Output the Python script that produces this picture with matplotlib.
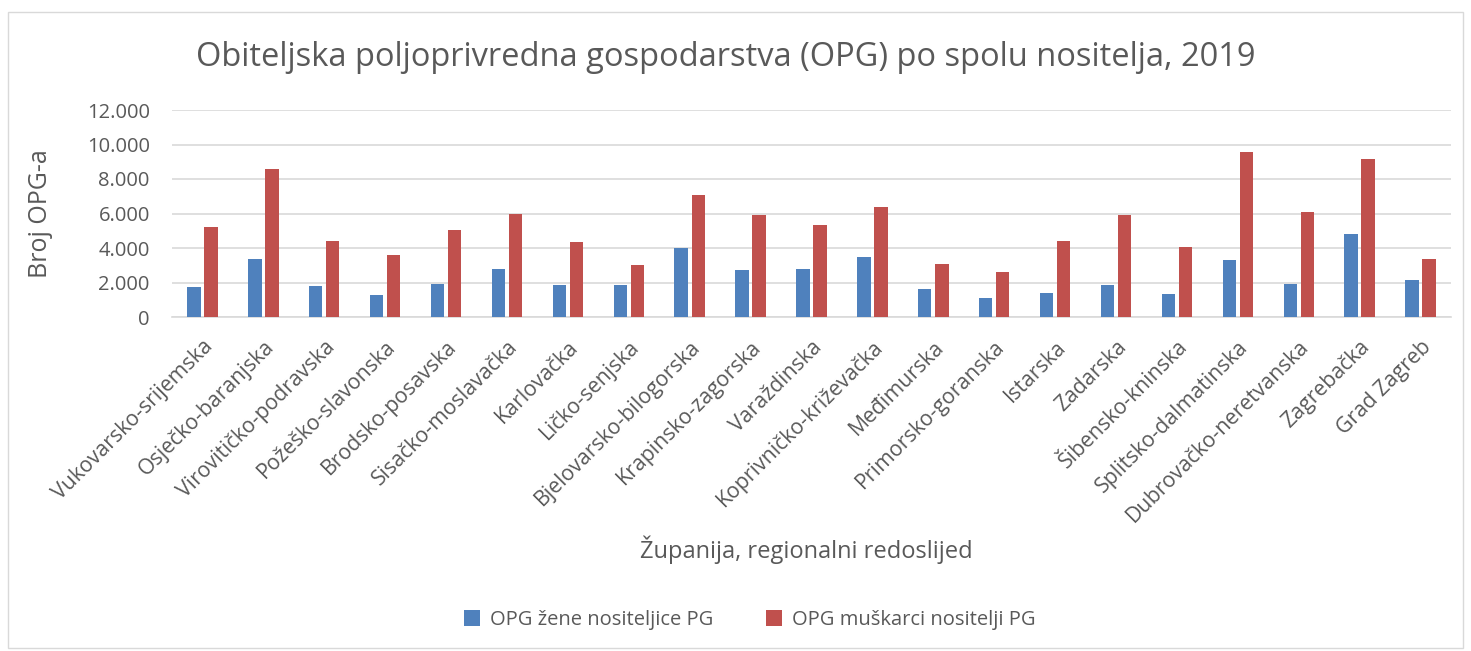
import matplotlib.pyplot as plt
from matplotlib.patches import Rectangle
from matplotlib.ticker import FuncFormatter
import numpy as np

counties = [
    "Vukovarsko-srijemska", "Osječko-baranjska", "Virovitičko-podravska",
    "Požeško-slavonska", "Brodsko-posavska", "Sisačko-moslavačka",
    "Karlovačka", "Ličko-senjska", "Bjelovarsko-bilogorska",
    "Krapinsko-zagorska", "Varaždinska", "Koprivničko-križevačka",
    "Međimurska", "Primorsko-goranska", "Istarska", "Zadarska",
    "Šibensko-kninska", "Splitsko-dalmatinska", "Dubrovačko-neretvanska",
    "Zagrebačka", "Grad Zagreb",
]
women = [1760, 3350, 1800, 1280, 1920, 2770, 1880, 1880, 4010, 2730, 2800,
         3480, 1610, 1120, 1410, 1840, 1320, 3330, 1920, 4840, 2170]
men = [5230, 8560, 4430, 3620, 5070, 5960, 4360, 3040, 7050, 5890, 5340,
       6370, 3060, 2580, 4430, 5890, 4030, 9560, 6060, 9140, 3390]

BLUE = "#4F81BD"
RED = "#C0504D"
TXT = "#595959"

plt.rcParams["font.family"] = ["Open Sans", "DejaVu Sans"]

fig = plt.figure(figsize=(14.71, 6.51), dpi=100)
ax = fig.add_axes([172 / 1471, 1 - 317 / 651, (1451 - 172) / 1471, (317 - 110) / 651])

# light frame around the whole chart, like the Excel chart area
fig.patches.append(Rectangle((8 / 1471, 3 / 651), 1455 / 1471, 636 / 651,
                             transform=fig.transFigure, fill=False,
                             edgecolor="#D9D9D9", linewidth=1.0))

x = np.arange(len(counties))
w = 0.22
ax.bar(x - w / 2 - 0.03, women, w, color=BLUE, label="OPG žene nositeljice PG", zorder=3)
ax.bar(x + w / 2 + 0.03, men, w, color=RED, label="OPG muškarci nositelji PG", zorder=3)

ax.set_xlim(-0.5, len(counties) - 0.5)
ax.set_ylim(0, 12000)
ax.set_yticks(range(0, 12001, 2000))
ax.yaxis.set_major_formatter(FuncFormatter(lambda v, p: f"{int(v):,}".replace(",", ".")))
ax.grid(axis="y", color="#D9D9D9", linewidth=1.2, zorder=0)
for s in ["top", "right", "left"]:
    ax.spines[s].set_visible(False)
ax.spines["bottom"].set_color("#D9D9D9")
ax.spines["bottom"].set_linewidth(1.2)
ax.tick_params(axis="y", length=0, colors=TXT, labelsize=14.5, pad=16)
ax.tick_params(axis="x", length=0, colors=TXT, labelsize=15.3, pad=14)

ax.set_xticks(x)
ax.set_xticklabels(counties, rotation=45, ha="right", rotation_mode="anchor")

ax.set_ylabel("Broj OPG-a", fontsize=18, color=TXT, labelpad=24)
fig.text(806 / 1471, 1 - 550 / 651, "Županija, regionalni redoslijed",
         ha="center", va="center", fontsize=17, color=TXT)
fig.text(726 / 1471, 1 - 58 / 651,
         "Obiteljska poljoprivredna gospodarstva (OPG) po spolu nositelja, 2019",
         ha="center", va="center", fontsize=23.5, color=TXT)

fig.legend(loc="center", bbox_to_anchor=(750 / 1471, 1 - 620 / 651), ncol=2,
           frameon=False, fontsize=14.5, labelcolor=TXT, handlelength=0.8,
           handleheight=0.8, columnspacing=2.6, handletextpad=0.5)

fig.savefig("out.png", dpi=100)
